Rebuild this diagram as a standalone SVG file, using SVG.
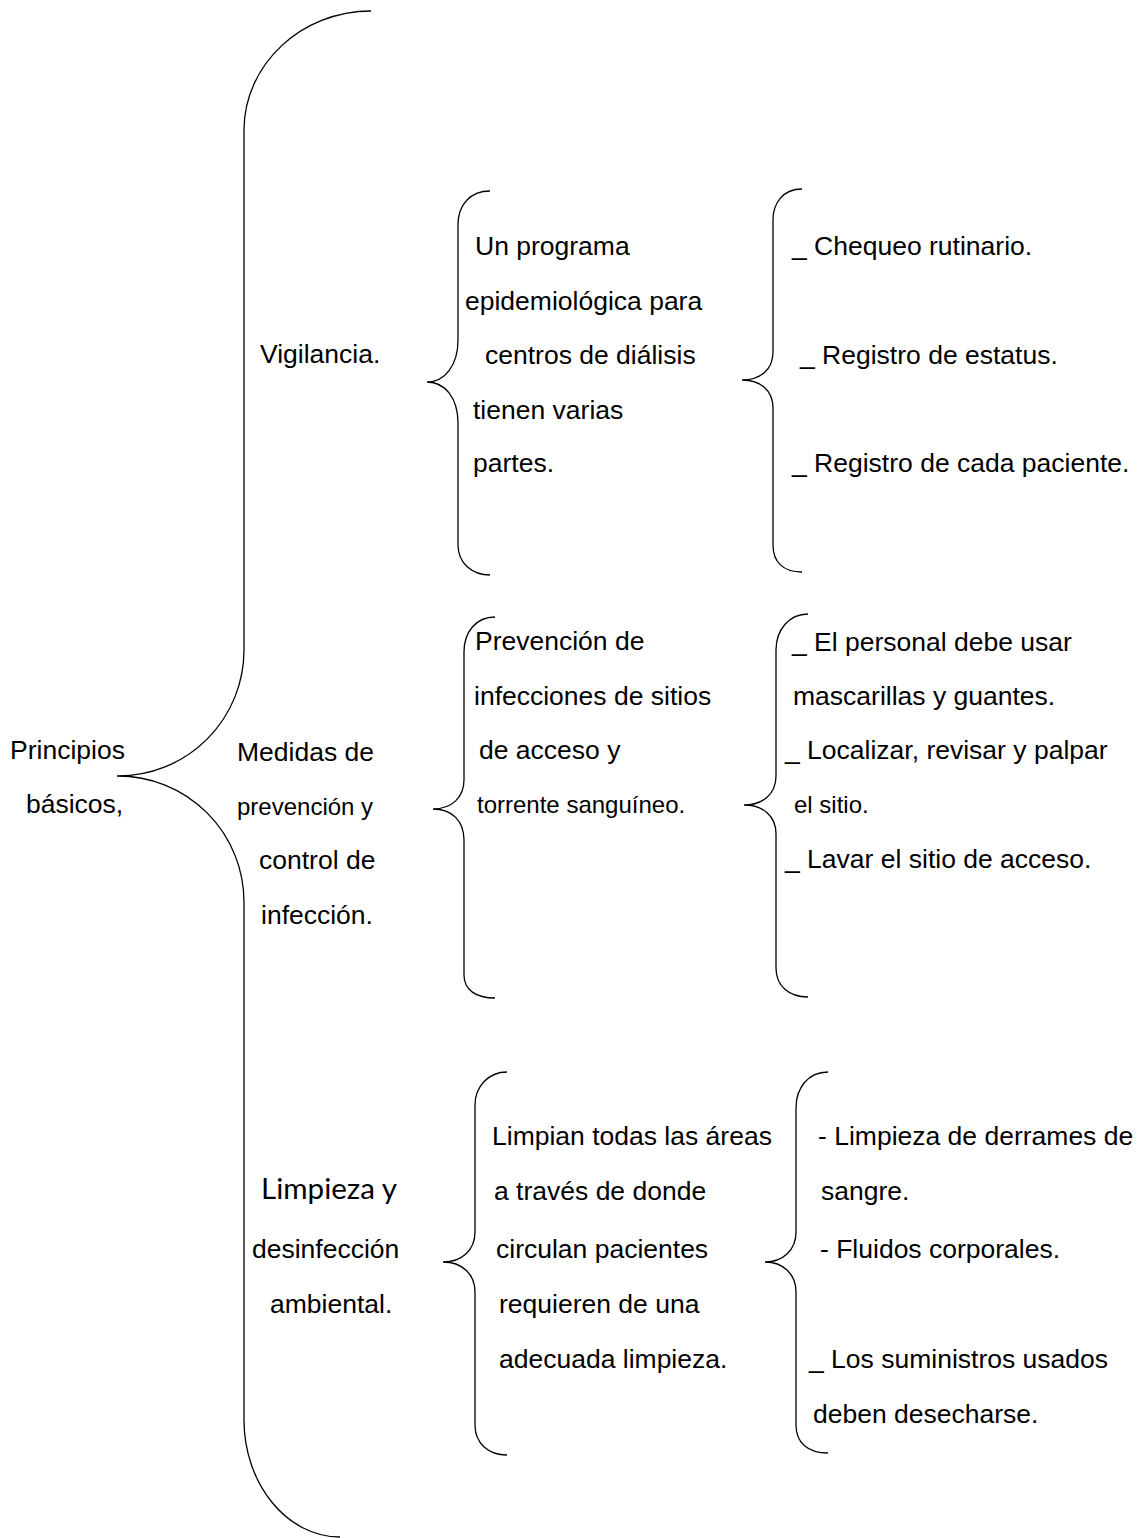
<svg xmlns="http://www.w3.org/2000/svg" width="1137" height="1538" viewBox="0 0 1137 1538">
<style>
.t{font-family:"Liberation Sans",Arial,sans-serif;font-size:26.5px;fill:#000}
.s{font-size:24px}
.g{font-family:Lato,"Open Sans",sans-serif;font-size:28px;fill:#000}
.br{fill:none;stroke:#000;stroke-width:1.3}
</style>
<rect width="1137" height="1538" fill="#fff"/>
<g id="connectors">
<path class="br" d="M371,11 C301,11 244,65 244,130 L244,650 A126,126 0 0 1 118,776 L117,776 L118,776 A126,126 0 0 1 244,902 L244,1420 C244,1484 287,1537 340,1537"/>
<path class="br" d="M490,191 C470,191 458,205 458,225 L458,340 C458,365 445,382 427,382 C445,382 458,398 458,423 L458,545 C458,563 472,575 490,575"/>
<path class="br" d="M802,189 C783,189 773,203 773,220 L773,352 C773,370 760,380 742,380 C760,380 773,390 773,408 L773,545 C773,562 783,572 802,572"/>
<path class="br" d="M495,617 C476,617 464,632 464,652 L464,780 C464,797 452,809 433,809 C452,809 464,821 464,840 L464,975 C464,990 476,998 495,998"/>
<path class="br" d="M808,614 C789,614 776,630 776,650 L776,776 C776,794 763,805 744,805 C763,805 776,816 776,834 L776,968 C776,986 789,997 808,997"/>
<path class="br" d="M507,1072 C488,1072 475,1087 475,1105 L475,1232 C475,1250 462,1262 443,1262 C462,1262 475,1274 475,1292 L475,1425 C475,1443 488,1455 507,1455"/>
<path class="br" d="M828,1072 C808,1072 796,1088 796,1108 L796,1232 C796,1250 783,1262 765,1262 C783,1262 796,1274 796,1292 L796,1425 C796,1443 808,1453 828,1453"/>
</g>
<g id="root">
<text class="t" x="10" y="759">Principios</text>
<text class="t" x="26" y="813">básicos,</text>
</g>
<g id="vigilancia">
<text class="t" x="260" y="363">Vigilancia.</text>
</g>
<g id="medidas">
<text class="t" x="237" y="761">Medidas de</text>
<text class="t s" x="237" y="815">prevención y</text>
<text class="t" x="259" y="869">control de</text>
<text class="t" x="261" y="924">infección.</text>
</g>
<g id="limpieza">
<text class="g" x="261" y="1199" textLength="136" lengthAdjust="spacingAndGlyphs">Limpieza y</text>
<text class="t" x="252" y="1258">desinfección</text>
<text class="t" x="270" y="1313">ambiental.</text>
</g>
<g id="vig-desc">
<text class="t" x="475" y="255">Un programa</text>
<text class="t" x="465" y="310">epidemiológica para</text>
<text class="t" x="485" y="364">centros de diálisis</text>
<text class="t" x="473" y="419">tienen varias</text>
<text class="t" x="473" y="472">partes.</text>
</g>
<g id="vig-items">
<text class="t" x="792" y="255">_ Chequeo rutinario.</text>
<text class="t" x="800" y="364">_ Registro de estatus.</text>
<text class="t" x="792" y="472">_ Registro de cada paciente.</text>
</g>
<g id="med-desc">
<text class="t" x="475" y="650">Prevención de</text>
<text class="t" x="474" y="705">infecciones de sitios</text>
<text class="t" x="479" y="759">de acceso y</text>
<text class="t s" x="477" y="813">torrente sanguíneo.</text>
</g>
<g id="med-items">
<text class="t" x="792" y="651">_ El personal debe usar</text>
<text class="t" x="793" y="705">mascarillas y guantes.</text>
<text class="t" x="785" y="759">_ Localizar, revisar y palpar</text>
<text class="t s" x="794" y="813">el sitio.</text>
<text class="t" x="785" y="868">_ Lavar el sitio de acceso.</text>
</g>
<g id="lim-desc">
<text class="t" x="492" y="1145">Limpian todas las áreas</text>
<text class="t" x="494" y="1200">a través de donde</text>
<text class="t" x="496" y="1258">circulan pacientes</text>
<text class="t" x="499" y="1313">requieren de una</text>
<text class="t" x="499" y="1368">adecuada limpieza.</text>
</g>
<g id="lim-items">
<text class="t" x="818" y="1145">- Limpieza de derrames de</text>
<text class="t" x="821" y="1200">sangre.</text>
<text class="t" x="820" y="1258">- Fluidos corporales.</text>
<text class="t" x="809" y="1368">_ Los suministros usados</text>
<text class="t" x="813" y="1423">deben desecharse.</text>
</g>
</svg>
